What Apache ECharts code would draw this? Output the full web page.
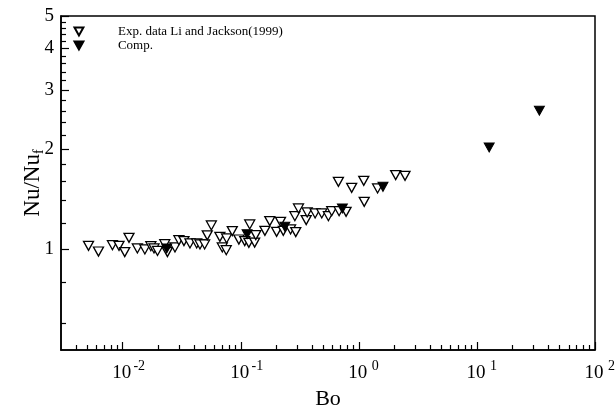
<!DOCTYPE html>
<html>
<head>
<meta charset="utf-8">
<script src="https://cdn.jsdelivr.net/npm/echarts@6/dist/echarts.min.js"></script>
<style>
  html, body { margin: 0; padding: 0; background: #fff; }
  #chart { width: 616px; height: 412px; }
</style>
</head>
<body>
<div id="chart"></div>
<script>
// Experimental points (Li and Jackson, 1999): Bo and Nu/Nu_f
const expBo = [0.00513, 0.00623, 0.00818, 0.00930, 0.0104, 0.0113, 0.0133, 0.0154, 0.0173, 0.0184,
  0.0197, 0.0227, 0.0239, 0.0277, 0.0299, 0.0330, 0.0371, 0.0423, 0.0451, 0.0494,
  0.0520, 0.0563, 0.0665, 0.0697, 0.0753, 0.0758, 0.0847, 0.0963, 0.108, 0.119,
  0.117, 0.131, 0.134, 0.160, 0.176, 0.201, 0.217, 0.229, 0.264, 0.292,
  0.287, 0.308, 0.358, 0.365, 0.426, 0.485, 0.552, 0.589, 0.680, 0.779,
  0.671, 0.869, 1.10, 1.11, 1.44, 2.05, 2.46];
const expNu = [1.025, 0.986, 1.030, 1.025, 0.982, 1.083, 1.007, 1.000, 1.023, 1.007,
  0.990, 1.037, 0.982, 1.014, 1.066, 1.059, 1.042, 1.042, 1.035, 1.035,
  1.102, 1.180, 1.091, 1.014, 0.995, 1.079, 1.135, 1.071, 1.059, 1.188,
  1.047, 1.049, 1.104, 1.137, 1.216, 1.129, 1.210, 1.137, 1.148, 1.127,
  1.258, 1.327, 1.224, 1.291, 1.282, 1.282, 1.258, 1.302, 1.302, 1.296,
  1.594, 1.529, 1.605, 1.389, 1.523, 1.670, 1.662];

// Computed points
const compBo = [0.0236, 0.113, 0.236, 0.725, 1.60, 12.7, 33.8];
const compNu = [1.007, 1.111, 1.169, 1.327, 1.540, 2.021, 2.602];

// Axis ticks
const xMajorTicks = [0.01, 0.1, 1, 10, 100];
const xMinorTicks = [0.004, 0.005, 0.006, 0.007, 0.008, 0.009,
  0.02, 0.03, 0.04, 0.05, 0.06, 0.07, 0.08, 0.09,
  0.2, 0.3, 0.4, 0.5, 0.6, 0.7, 0.8, 0.9,
  2, 3, 4, 5, 6, 7, 8, 9,
  20, 30, 40, 50, 60, 70, 80, 90];
const yMajorTicks = [1, 2, 3, 4, 5];
const yMinorTicks = [0.6, 0.8, 1.2, 1.4, 1.6, 1.8, 2.2, 2.4, 2.6, 2.8,
  3.2, 3.4, 3.6, 3.8, 4.2, 4.4, 4.6, 4.8];

const FONT = 'Liberation Serif';
const TRI = 'path://M0,0 L10,0 L5,9 Z';
const X_RANGE = [0.003, 100];
const Y_RANGE = [0.5, 5];

const pairs = (xs, ys) => xs.map((x, i) => [x, ys[i]]);

const chart = echarts.init(document.getElementById('chart'), null, { renderer: 'canvas' });

const baseX = {
  type: 'log', logBase: 10, min: X_RANGE[0], max: X_RANGE[1],
  gridIndex: 0, position: 'bottom', splitLine: { show: false }
};
const baseY = {
  type: 'log', logBase: 10, min: Y_RANGE[0], max: Y_RANGE[1],
  gridIndex: 0, position: 'left', splitLine: { show: false }
};

chart.setOption({
  animation: false,
  backgroundColor: '#fff',
  textStyle: { fontFamily: FONT, color: '#000' },
  grid: {
    left: 61, right: 21, top: 16, bottom: 62,
    outerBoundsMode: 'none', containLabel: false,
    show: true, borderColor: '#000', borderWidth: 1.5, backgroundColor: 'transparent'
  },
  legend: {
    orient: 'vertical', left: 73.5, top: 25, padding: 0,
    itemWidth: 9, itemHeight: 8, itemGap: 1,
    icon: TRI,
    formatter: name => '{g|}{n|' + name + '}',
    textStyle: {
      fontFamily: FONT, fontSize: 13, color: '#000',
      rich: {
        g: { width: 29.5 },
        n: { fontFamily: FONT, fontSize: 13, lineHeight: 14, color: '#000' }
      }
    },
    data: ['Exp. data Li and Jackson(1999)', 'Comp.']
  },
  xAxis: [
    Object.assign({}, baseX, {
      name: 'Bo', nameLocation: 'middle', nameGap: 38, nameMoveOverlap: false,
      nameTextStyle: { fontFamily: FONT, fontSize: 22, color: '#000' },
      axisLine: { show: true, lineStyle: { color: '#000', width: 1.5 } },
      axisTick: { show: true, inside: true, length: 8, customValues: xMajorTicks,
        lineStyle: { color: '#000', width: 1.2 } },
      axisLabel: {
        show: true, margin: 9, customValues: xMajorTicks, color: '#000',
        formatter: v => '{p|}{b|10}{s|' + Math.round(Math.log10(v)) + '}',
        rich: {
          p: { width: 12 },
          b: { fontFamily: FONT, fontSize: 19, lineHeight: 28, color: '#000' },
          s: { fontFamily: FONT, fontSize: 14, lineHeight: 9, width: 12, verticalAlign: 'top',
               padding: [0, 0, 0, 2], color: '#000' }
        }
      }
    }),
    Object.assign({}, baseX, {
      axisLine: { show: false },
      axisTick: { show: true, inside: true, length: 5, customValues: xMinorTicks,
        lineStyle: { color: '#000', width: 1.2 } },
      axisLabel: { show: false }
    })
  ],
  yAxis: [
    Object.assign({}, baseY, {
      name: '{a|Nu/Nu}{b|f}', nameLocation: 'middle', nameGap: 15, nameRotate: 90,
      nameMoveOverlap: false,
      nameTextStyle: {
        rich: {
          a: { fontFamily: FONT, fontSize: 23, lineHeight: 26, color: '#000' },
          b: { fontFamily: FONT, fontSize: 14, lineHeight: 12, verticalAlign: 'bottom', color: '#000' }
        }
      },
      axisLine: { show: true, lineStyle: { color: '#000', width: 1.5 } },
      axisTick: { show: true, inside: true, length: 8, customValues: yMajorTicks,
        lineStyle: { color: '#000', width: 1.2 } },
      axisLabel: { show: true, margin: 7, customValues: yMajorTicks, color: '#000',
        fontFamily: FONT, fontSize: 19, formatter: v => String(v) }
    }),
    Object.assign({}, baseY, {
      axisLine: { show: false },
      axisTick: { show: true, inside: true, length: 5, customValues: yMinorTicks,
        lineStyle: { color: '#000', width: 1.2 } },
      axisLabel: { show: false }
    })
  ],
  series: [
    {
      name: 'Exp. data Li and Jackson(1999)', type: 'scatter',
      xAxisIndex: 0, yAxisIndex: 0,
      symbol: TRI, symbolSize: [10, 9],
      itemStyle: { color: '#fff', borderColor: '#000', borderWidth: 1.3, opacity: 1 },
      data: pairs(expBo, expNu), z: 3
    },
    {
      name: 'Comp.', type: 'scatter',
      xAxisIndex: 0, yAxisIndex: 0,
      symbol: TRI, symbolSize: [10, 9],
      itemStyle: { color: '#000', borderColor: '#000', borderWidth: 1, opacity: 1 },
      data: pairs(compBo, compNu), z: 4
    }
  ]
});
</script>
</body>
</html>
